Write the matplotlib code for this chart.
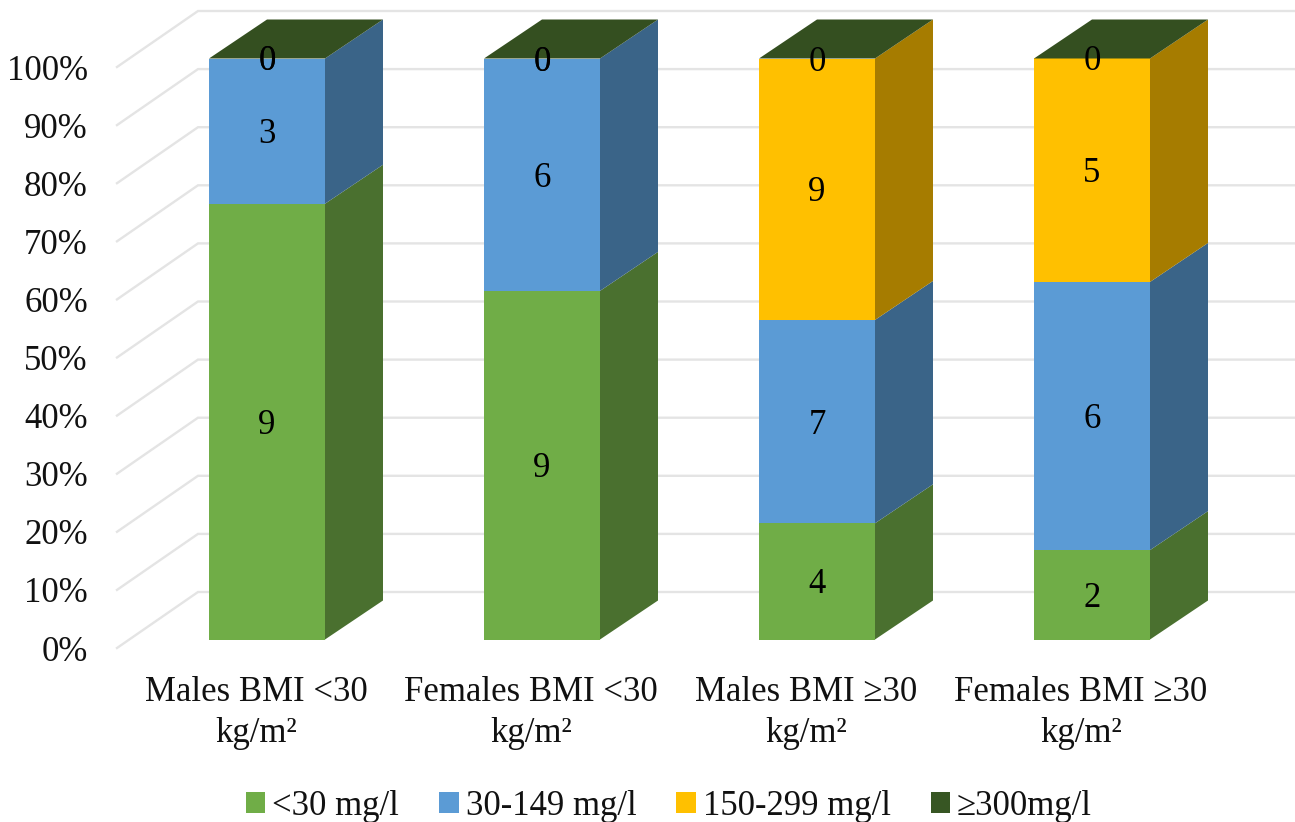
import matplotlib
matplotlib.use("Agg")
import matplotlib.pyplot as plt
from matplotlib.patches import Patch
import numpy as np

plt.rcParams['font.family'] = ['Liberation Serif', 'DejaVu Serif']

categories = ["Males BMI <30\nkg/m²", "Females BMI <30\nkg/m²",
              "Males BMI ≥30\nkg/m²", "Females BMI ≥30\nkg/m²"]
series_names = ["<30 mg/l", "30-149 mg/l", "150-299 mg/l", "≥300mg/l"]
low = [9, 9, 4, 2]
mid = [3, 6, 7, 6]
high = [0, 0, 9, 5]
very_high = [0, 0, 0, 0]
y_ticks = [0, 10, 20, 30, 40, 50, 60, 70, 80, 90, 100]

front_colors = ["#70AD47", "#5B9BD5", "#FFC000", "#375623"]
side_colors = ["#4A702F", "#3A6488", "#A67C00", "#2A4119"]
top_color = "#344F20"
grid_color = "#E4E4E4"
FS = 25

W, H = 1295, 822
fig = plt.figure(figsize=(W / 100, H / 100), dpi=100)
AX_L, AX_T, AX_B = 117, 67, 648
ax = fig.add_axes([AX_L / W, 1 - AX_B / H, 1 - AX_L / W, (AX_B - AX_T) / H])

CAT_PX = 275.0
Y_PX = (AX_B - AX_T) / 100.0
x0 = 256
ax.set_xlim((AX_L - x0) / CAT_PX, (W - x0) / CAT_PX)
ax.set_ylim(0, 100)

def px_x(p):
    return p / CAT_PX

def px_y(p):
    return p / Y_PX

# wall / floor gridlines
wall_dx, wall_dy = px_x(81), px_y(56)
xl = ax.get_xlim()
for t in y_ticks:
    ax.plot([xl[0], xl[0] + wall_dx, xl[1]], [t, t + wall_dy, t + wall_dy],
            color=grid_color, lw=1.7, clip_on=False, zorder=1,
            solid_joinstyle='miter')

# stacked 3D columns
data = np.array([low, mid, high, very_high], dtype=float)
pct = data / data.sum(axis=0) * 100
bar_w = px_x(116)
bar_shift_x = px_x(11)
base_y = px_y(8.5)
depth_x, depth_y = px_x(58), px_y(39)
plot_y = (639 - 58) / Y_PX / 100  # bar scale: 100% spans 639 to 58 px

for i in range(len(categories)):
    cx = i + bar_shift_x
    left, right = cx - bar_w / 2, cx + bar_w / 2
    bottom = base_y
    for s in range(len(series_names)):
        v = pct[s, i] * plot_y
        if v > 0:
            ax.bar(cx, v, width=bar_w, bottom=bottom, color=front_colors[s],
                   linewidth=0, zorder=3, clip_on=False)
            ax.fill([right, right + depth_x, right + depth_x, right],
                    [bottom, bottom + depth_y, bottom + v + depth_y, bottom + v],
                    color=side_colors[s], linewidth=0, zorder=3, clip_on=False)
        ax.text(cx, bottom + v / 2 - px_y(3.5), f"{int(data[s, i])}",
                ha='center', va='center', fontsize=FS, color='black', zorder=5)
        bottom += v
    ax.fill([left, right, right + depth_x, left + depth_x],
            [bottom, bottom, bottom + depth_y, bottom + depth_y],
            color=top_color, linewidth=0, zorder=4, clip_on=False)

ax.set_yticks(y_ticks)
ax.set_yticklabels([f"{t}%" for t in y_ticks], fontsize=FS, color='#111111')
ax.set_xticks(range(len(categories)))
ax.set_xticklabels(categories, fontsize=FS, color='#111111', linespacing=1.33)
ax.tick_params(axis='y', length=0, pad=21)
ax.tick_params(axis='x', length=0, pad=20)
for sp in ax.spines.values():
    sp.set_visible(False)
ax.set_facecolor('none')

handles = [Patch(facecolor=c, edgecolor='none', label=n)
           for c, n in zip(front_colors, series_names)]
fig.legend(handles=handles, ncol=4, loc='center', bbox_to_anchor=(669 / W, 1 - 806 / H),
           frameon=False, fontsize=FS, handlelength=0.56, handleheight=0.56,
           handletextpad=0.2, columnspacing=1.15, labelcolor='#111111')

fig.savefig("out.png", dpi=100, facecolor='white')
